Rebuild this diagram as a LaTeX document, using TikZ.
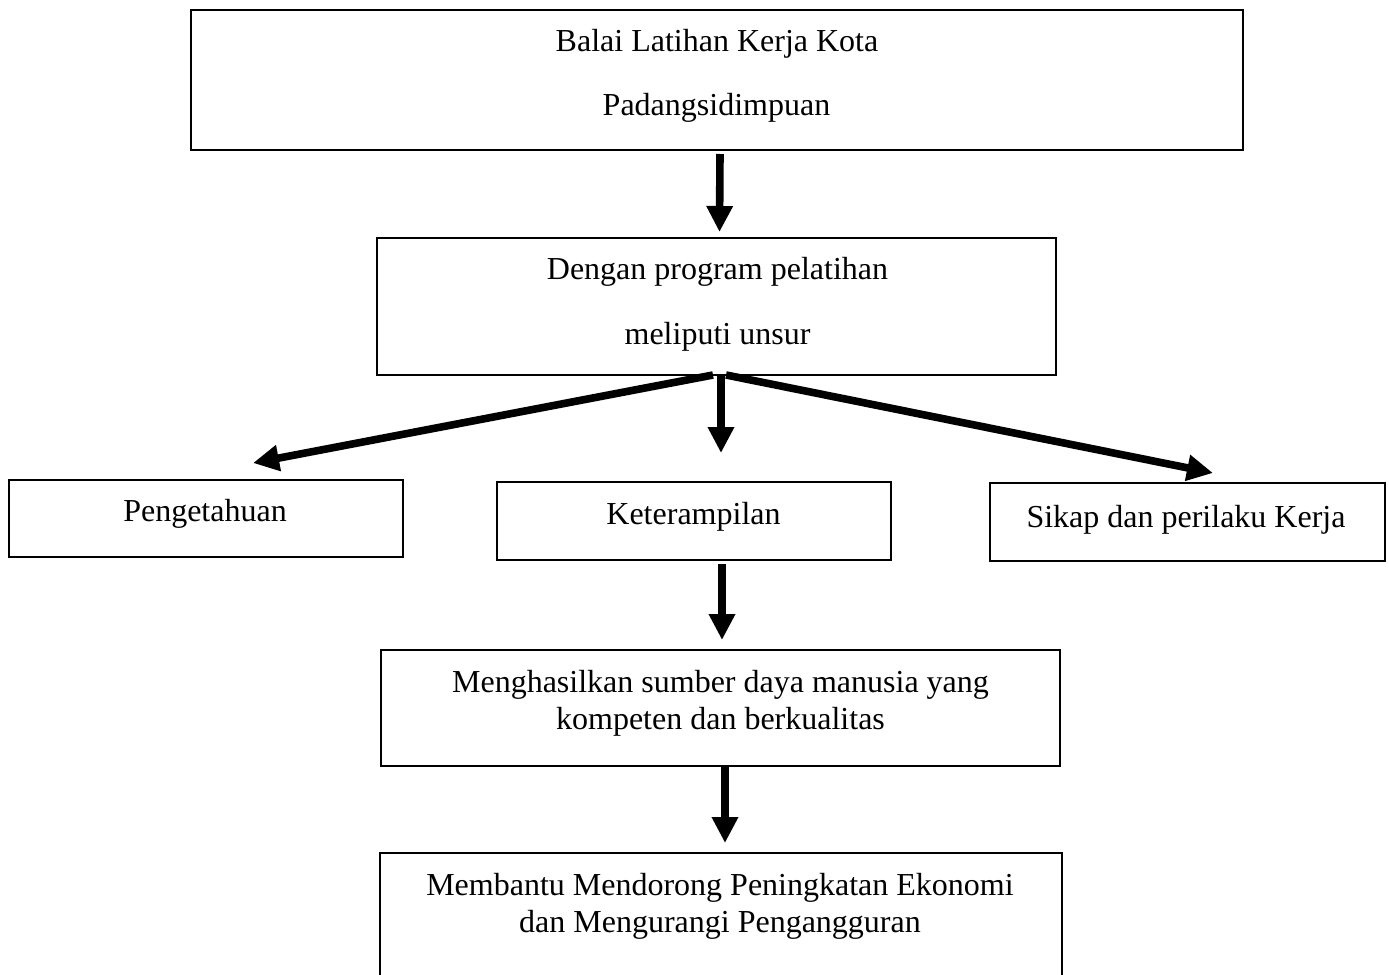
\documentclass[tikz,border=0pt]{standalone}
\usepackage{fontspec}
\setmainfont{Liberation Serif}
\usetikzlibrary{arrows.meta}
\tikzset{
  box/.style={draw=black, line width=1.1pt, inner sep=0pt, outer sep=0pt, fill=white},
  lbl/.style={anchor=base, inner sep=0pt, font=\fontsize{16}{19}\selectfont},
  arr/.style={line width=3.8pt, -{Triangle[length=13pt,width=12.5pt]}}
}
\begin{document}
\begin{tikzpicture}[x=0.5pt,y=-0.5pt]
\useasboundingbox (0,0) rectangle (1389,975);
\fill[white] (0,0) rectangle (1389,975);
\clip (0,0) rectangle (1389,975);
% boxes
\node[box, minimum width=526pt, minimum height=70pt] (b1) at (717,80) {};
\node[box, minimum width=339.5pt, minimum height=68.5pt] (b2) at (716.5,306.5) {};
\node[box, minimum width=197pt, minimum height=38.5pt] (b3) at (206,518.5) {};
\node[box, minimum width=197pt, minimum height=39pt] (b4) at (694,521) {};
\node[box, minimum width=197.5pt, minimum height=39pt] (b5) at (1187.5,522) {};
\node[box, minimum width=339.5pt, minimum height=58pt] (b6) at (720.5,708) {};
\node[box, minimum width=341pt, minimum height=75pt] (b7) at (721,928) {};
% texts
\node[lbl] (t1a) at (717,51) {Balai Latihan Kerja Kota};
\node[lbl] (t1b) at (716.5,115) {Padangsidimpuan};
\node[lbl] (t2a) at (717.5,279) {Dengan program pelatihan};
\node[lbl] (t2b) at (717.5,344) {meliputi unsur};
\node[lbl] (t3) at (205,521) {Pengetahuan};
\node[lbl] (t4) at (693.5,524) {Keterampilan};
\node[lbl] (t5) at (1186,527) {Sikap dan perilaku Kerja};
\node[lbl] (t6a) at (720.5,692) {Menghasilkan sumber daya manusia yang};
\node[lbl] (t6b) at (720.5,729) {kompeten dan berkualitas};
\node[lbl] (t7a) at (720,895) {Membantu Mendorong Peningkatan Ekonomi};
\node[lbl] (t7b) at (720,932) {dan Mengurangi Pengangguran};
% connectors
\draw[arr] ([xshift=1.5pt,yshift=-2pt]b1.south) -- ([xshift=1.5pt,yshift=3pt]b2.north);
\draw[arr] ([xshift=-1.75pt]b2.south) -- ([xshift=23.5pt,yshift=8.5pt]b3.north);
\draw[arr] ([xshift=2.25pt]b2.south) -- ([xshift=13.5pt,yshift=14.5pt]b4.north);
\draw[arr] ([xshift=4.75pt]b2.south) -- ([xshift=12.75pt,yshift=5pt]b5.north);
\draw[arr] ([xshift=14pt,yshift=-2pt]b4.south) -- ([xshift=0.75pt,yshift=5pt]b6.north);
\draw[arr] ([xshift=2.25pt,yshift=-0.5pt]b6.south) -- ([xshift=2pt,yshift=5pt]b7.north);
\end{tikzpicture}
\end{document}
